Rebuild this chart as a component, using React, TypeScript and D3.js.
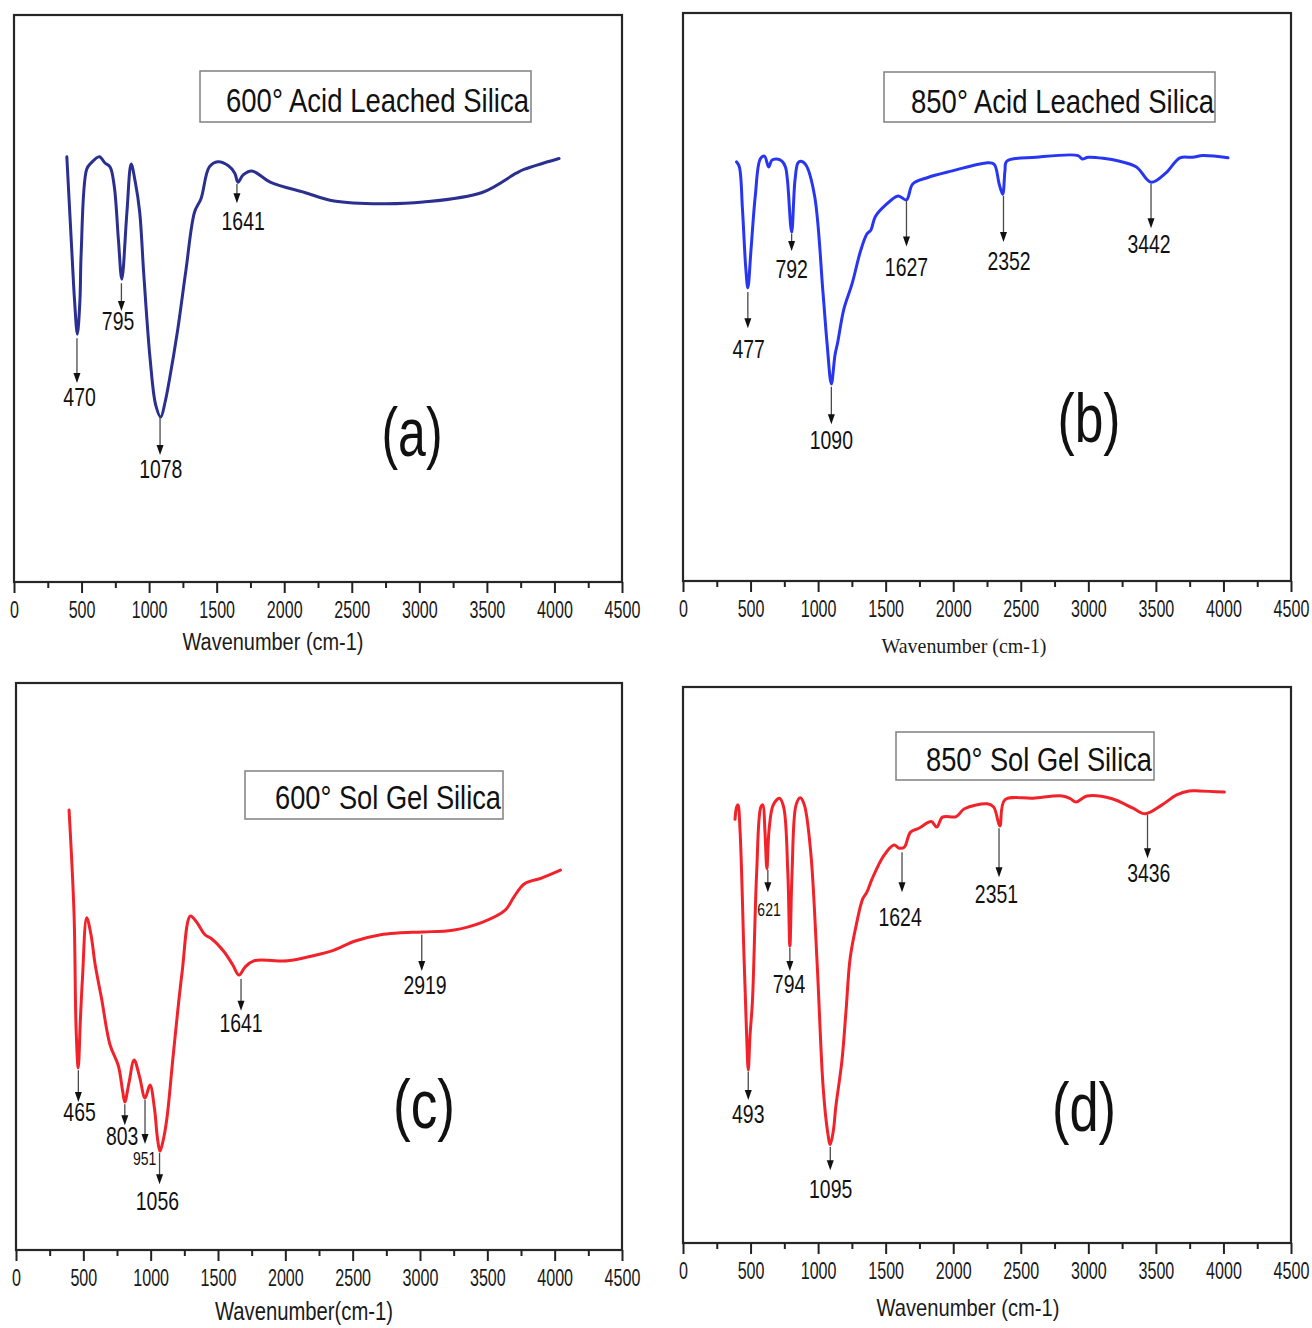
import React, { useEffect, useRef } from 'react'
import * as d3 from 'd3'

// ---- data: wavenumber (cm-1) vs. relative transmittance (arbitrary 0-100) ----
const spectrumA: [number, number][] = [
  [391, 75.0], [429, 57.9], [448, 49.7], [469, 43.7], [488, 49.7], [497, 57.9], [538, 72.8], [570, 73.9],
  [632, 75.0], [673, 73.9], [711, 73.2], [742, 69.8], [773, 60.3], [798, 53.4], [836, 65.3], [867, 73.7],
  [898, 70.5], [930, 65.3], [961, 54.1], [1008, 39.2], [1049, 31.2], [1086, 29.1], [1118, 31.7], [1149, 35.5],
  [1211, 44.4], [1272, 54.9], [1337, 65.3], [1384, 67.6], [1446, 73.2], [1509, 74.1], [1587, 73.4], [1634, 72.1],
  [1658, 70.5], [1696, 71.8], [1760, 72.5], [1900, 70.5], [2151, 68.7], [2369, 67.2], [2714, 66.7], [3028, 67.0],
  [3465, 68.7], [3717, 72.1], [3779, 72.8], [4034, 74.7],
]

const spectrumB: [number, number][] = [
  [396, 73.8], [417, 72.9], [440, 65.5], [464, 55.3], [480, 51.6], [503, 58.2], [535, 67.8], [572, 74.3],
  [603, 74.8], [634, 72.9], [658, 74.1], [695, 74.3], [732, 73.9], [758, 72.9], [773, 70.6], [804, 61.4],
  [829, 70.6], [851, 73.6], [874, 73.9], [911, 73.2], [974, 67.8], [1036, 50.8], [1066, 41.9], [1098, 34.7],
  [1125, 39.8], [1144, 41.9], [1191, 47.9], [1251, 52.3], [1314, 58.1], [1361, 61.1], [1391, 61.8], [1422, 64.1],
  [1500, 66.2], [1593, 67.8], [1654, 67.1], [1700, 69.9], [1808, 71.0], [1994, 72.2], [2242, 73.6], [2302, 73.4],
  [2340, 69.9], [2366, 68.1], [2383, 72.2], [2396, 73.9], [2613, 74.6], [2924, 74.9], [2955, 74.3], [3000, 74.6],
  [3232, 73.9], [3356, 72.9], [3464, 70.2], [3572, 71.8], [3678, 74.5], [3772, 74.6], [3849, 74.9], [4034, 74.5],
]

const spectrumC: [number, number][] = [
  [394, 77.6], [431, 59.3], [446, 39.2], [462, 32.1], [478, 40.6], [494, 48.1], [525, 58.6], [557, 55.6],
  [588, 50.3], [635, 44.4], [698, 36.2], [760, 32.5], [792, 28.0], [808, 26.1], [839, 29.5], [877, 33.5],
  [918, 30.5], [958, 26.8], [995, 29.1], [1028, 25.0], [1050, 19.8], [1069, 17.4], [1097, 19.8], [1122, 23.5],
  [1169, 34.7], [1233, 48.9], [1295, 58.9], [1342, 57.8], [1404, 55.6], [1452, 54.9], [1545, 52.6], [1609, 50.3],
  [1656, 48.5], [1701, 49.9], [1766, 51.0], [2017, 51.0], [2206, 51.9], [2362, 52.9], [2519, 54.5], [2708, 55.6],
  [2834, 55.9], [3022, 56.1], [3242, 56.4], [3461, 57.8], [3635, 60.0], [3698, 62.3], [3776, 64.6], [3902, 65.6],
  [4043, 67.0],
]

const spectrumD: [number, number][] = [
  [385, 76.2], [397, 78.4], [407, 78.8], [422, 74.3], [452, 51.2], [471, 37.3], [483, 31.1], [496, 37.3],
  [514, 43.5], [545, 66.5], [576, 78.4], [591, 78.8], [606, 74.3], [621, 67.3], [637, 74.3], [668, 78.8],
  [714, 80.0], [745, 78.4], [776, 66.5], [791, 53.4], [807, 66.5], [837, 78.8], [868, 80.1], [898, 78.8],
  [945, 70.4], [991, 51.2], [1037, 28.1], [1068, 20.4], [1090, 17.7], [1114, 20.4], [1130, 24.3], [1176, 32.7],
  [1207, 41.9], [1237, 51.2], [1284, 57.4], [1330, 61.9], [1361, 63.1], [1398, 65.4], [1484, 69.6], [1561, 71.6],
  [1601, 71.0], [1638, 71.2], [1684, 73.9], [1746, 74.6], [1838, 75.8], [1878, 74.8], [1921, 76.6], [2022, 76.7],
  [2083, 78.1], [2253, 79.0], [2300, 78.4], [2345, 75.0], [2382, 79.7], [2591, 80.0], [2806, 80.4], [2868, 79.9],
  [2908, 79.3], [2990, 80.4], [3176, 79.9], [3330, 78.2], [3422, 77.2], [3545, 78.8], [3654, 80.6], [3746, 81.3],
  [3823, 81.3], [4007, 81.1],
]

// peak markers: arrow at `at`, from/to and text baseline in transmittance units, label centred at `lx`
type Peak = { at: number; label: string; lx: number; from: number; to: number; ty: number }

const peaksA: Peak[] = [
  { at: 466, label: '470', lx: 485, from: 43.0, to: 35.1, ty: 31.0 },
  { at: 795, label: '795', lx: 770, from: 52.7, to: 47.8, ty: 44.4 },
  { at: 1081, label: '1078', lx: 1086, from: 29.1, to: 22.4, ty: 18.3 },
  { at: 1650, label: '1641', lx: 1696, from: 70.2, to: 66.8, ty: 62.1 },
]

const peaksB: Peak[] = [
  { at: 480, label: '477', lx: 486, from: 50.9, to: 44.5, ty: 39.3 },
  { at: 804, label: '792', lx: 804, from: 61.1, to: 58.1, ty: 53.3 },
  { at: 1098, label: '1090', lx: 1098, from: 34.2, to: 27.6, ty: 23.2 },
  { at: 1654, label: '1627', lx: 1654, from: 67.0, to: 58.9, ty: 53.7 },
  { at: 2372, label: '2352', lx: 2413, from: 67.8, to: 59.7, ty: 54.8 },
  { at: 3464, label: '3442', lx: 3449, from: 69.9, to: 62.1, ty: 57.7 },
]

const peaksC: Peak[] = [
  { at: 463, label: '465', lx: 472, from: 31.7, to: 26.1, ty: 22.75 },
  { at: 808, label: '803', lx: 788, from: 25.7, to: 22.0, ty: 18.6 },
  { at: 958, label: '951', lx: 955, from: 26.5, to: 18.7, ty: 15.0 },
  { at: 1066, label: '1056', lx: 1050, from: 17.1, to: 11.6, ty: 7.05 },
  { at: 1671, label: '1641', lx: 1671, from: 47.8, to: 42.2, ty: 38.4 },
  { at: 3013, label: '2919', lx: 3037, from: 55.6, to: 49.2, ty: 45.1 },
]

const peaksD: Peak[] = [
  { at: 483, label: '493', lx: 483, from: 30.8, to: 25.7, ty: 21.6 },
  { at: 628, label: '621', lx: 637, from: 67.1, to: 63.1, ty: 58.8 },
  { at: 791, label: '794', lx: 785, from: 53.1, to: 48.9, ty: 45.0 },
  { at: 1090, label: '1095', lx: 1093, from: 17.3, to: 13.1, ty: 8.1 },
  { at: 1621, label: '1624', lx: 1607, from: 70.3, to: 63.1, ty: 57.0 },
  { at: 2339, label: '2351', lx: 2320, from: 74.6, to: 65.8, ty: 61.2 },
  { at: 3438, label: '3436', lx: 3447, from: 77.0, to: 69.2, ty: 65.0 },
]

const xTicks = d3.range(0, 4501, 500)
const xMinorTicks = d3.range(250, 4500, 500)

// ---- layout ----
const SANS = "'Liberation Sans', Arial, sans-serif"
const SERIF = "'Liberation Serif', 'Times New Roman', serif"
const SMALL_LABELS = ['951', '621']

const panels = [
  {
    key: 'a', data: spectrumA, peaks: peaksA, color: '#2a2f90',
    left: 14, right: 622, top: 15, bottom: 582,
    legend: '600° Acid Leached Silica', box: [200, 71, 331, 51], lt: [226, 112, 303],
    letter: '(a)', lp: [412, 456, 61],
    xlabel: 'Wavenumber (cm-1)', xl: [273, 650, 181, 23], xfont: SANS,
  },
  {
    key: 'b', data: spectrumB, peaks: peaksB, color: '#2836f2',
    left: 683, right: 1291, top: 13, bottom: 581,
    legend: '850° Acid Leached Silica', box: [884, 72, 331, 50], lt: [911, 113, 303],
    letter: '(b)', lp: [1089, 442, 63],
    xlabel: 'Wavenumber (cm-1)', xl: [964, 653, 165, 21], xfont: SERIF,
  },
  {
    key: 'c', data: spectrumC, peaks: peaksC, color: '#f2222a',
    left: 16, right: 622, top: 683, bottom: 1250,
    legend: '600° Sol Gel Silica', box: [245, 771, 258, 48], lt: [275, 809, 226],
    letter: '(c)', lp: [424, 1128, 62],
    xlabel: 'Wavenumber(cm-1)', xl: [304, 1320, 178, 25], xfont: SANS,
  },
  {
    key: 'd', data: spectrumD, peaks: peaksD, color: '#f2222a',
    left: 683, right: 1291, top: 687, bottom: 1243,
    legend: '850° Sol Gel Silica', box: [896, 732, 258, 48], lt: [926, 771, 226],
    letter: '(d)', lp: [1084, 1131, 64],
    xlabel: 'Wavenumber (cm-1)', xl: [968, 1316, 183, 24], xfont: SANS,
  },
]

const Panel = ({ p }: { p: typeof panels[number] }) => {
  const x = d3.scaleLinear().domain([0, 4500]).range([p.left, p.right])
  const y = d3.scaleLinear().domain([0, 100]).range([p.bottom, p.top])
  const line = d3.line<[number, number]>()
    .x(d => x(d[0]))
    .y(d => y(d[1]))
    .curve(d3.curveCatmullRom.alpha(0.5))

  const majorRef = useRef<SVGGElement>(null)
  const minorRef = useRef<SVGGElement>(null)

  useEffect(() => {
    const major = d3.select(majorRef.current!)
    major.call(d3.axisBottom(x).tickValues(xTicks).tickSize(11).tickPadding(9).tickFormat(d3.format('d')))
    major.select('.domain').remove()
    major.attr('font-family', SANS).attr('font-size', 23)
    major.selectAll('line').attr('stroke', '#222').attr('stroke-width', 2)
    major.selectAll('text').attr('fill', '#1a1a1a').attr('transform', 'scale(0.7,1)')

    const minor = d3.select(minorRef.current!)
    minor.call(d3.axisBottom(x).tickValues(xMinorTicks).tickSize(6).tickFormat(() => ''))
    minor.select('.domain').remove()
    minor.selectAll('line').attr('stroke', '#222').attr('stroke-width', 2)
  }, [])

  return (
    <g>
      <rect x={p.left} y={p.top} width={p.right - p.left} height={p.bottom - p.top}
        fill="#fff" stroke="#262626" strokeWidth={2.2} />
      <g ref={majorRef} transform={`translate(0,${p.bottom})`} />
      <g ref={minorRef} transform={`translate(0,${p.bottom})`} />

      <rect x={p.box[0]} y={p.box[1]} width={p.box[2]} height={p.box[3]}
        fill="#fff" stroke="#808080" strokeWidth={1.5} />
      <text x={p.lt[0]} y={p.lt[1]} fontFamily={SANS} fontSize={33} fill="#111"
        textLength={p.lt[2]} lengthAdjust="spacingAndGlyphs">{p.legend}</text>

      <path d={line(p.data) || ''} fill="none" stroke={p.color} strokeWidth={3}
        strokeLinejoin="round" strokeLinecap="round" />

      {p.peaks.map(pk => {
        const cx = x(pk.at)
        const y0 = y(pk.from)
        const y1 = y(pk.to)
        const small = SMALL_LABELS.includes(pk.label)
        return (
          <g key={pk.label}>
            <line x1={cx} x2={cx} y1={y0} y2={y1 - 4} stroke="#4a4a4a" strokeWidth={1.3} />
            <path d={`M${cx - 3.5},${y1 - 10}L${cx + 3.5},${y1 - 10}L${cx},${y1}Z`} fill="#111" />
            <text x={x(pk.lx)} y={y(pk.ty)} textAnchor="middle" fontFamily={SANS}
              fontSize={small ? 18 : 26} fill="#111"
              textLength={pk.label.length * (small ? 7.8 : 10.8)} lengthAdjust="spacingAndGlyphs">
              {pk.label}
            </text>
          </g>
        )
      })}

      <text x={p.lp[0]} y={p.lp[1]} textAnchor="middle" fontFamily={SANS} fontSize={68} fill="#111"
        textLength={p.lp[2]} lengthAdjust="spacingAndGlyphs">{p.letter}</text>

      <text x={p.xl[0]} y={p.xl[1]} textAnchor="middle" fontFamily={p.xfont} fontSize={p.xl[3]} fill="#1a1a1a"
        textLength={p.xl[2]} lengthAdjust="spacingAndGlyphs">{p.xlabel}</text>
    </g>
  )
}

export default function App() {
  return (
    <svg width={1312} height={1328} style={{ position: 'absolute', left: 0, top: 0, background: '#fff' }}>
      <rect width={1312} height={1328} fill="#fff" />
      {panels.map(p => <Panel key={p.key} p={p} />)}
    </svg>
  )
}
